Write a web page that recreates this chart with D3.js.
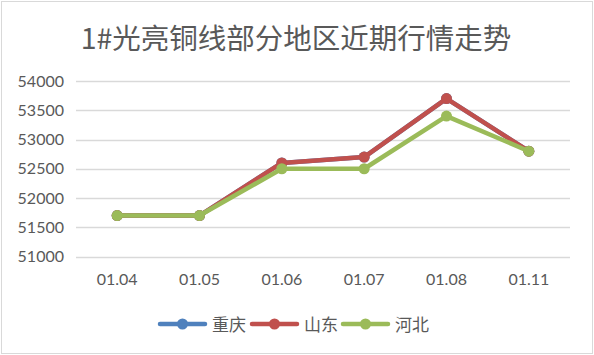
<!DOCTYPE html>
<html><head><meta charset="utf-8">
<script src="https://cdn.jsdelivr.net/npm/d3@7"></script>
<style>body{margin:0;background:#fff;}svg{display:block;}</style>
</head><body>
<script>
const categories = ["01.04","01.05","01.06","01.07","01.08","01.11"];
const seriesNames = ["重庆","山东","河北"];
const chongqing = [51700,51700,52600,52700,53700,52800];
const shandong = [51700,51700,52600,52700,53700,52800];
const hebei = [51700,51700,52500,52500,53400,52800];
const yTicks = [51000,51500,52000,52500,53000,53500,54000];
const colors = ["#4F81BD","#C0504D","#9BBB59"];
const title = "1#光亮铜线部分地区近期行情走势";

const W=594,H=355;
const svg=d3.select("body").append("svg").attr("width",W).attr("height",H);
svg.append("rect").attr("x",1.5).attr("y",1.5).attr("width",W-3).attr("height",H-3)
  .attr("fill","#fff").attr("stroke","#d9d9d9").attr("stroke-width",1);

svg.append("text").attr("x",296).attr("y",49).attr("text-anchor","middle")
  .attr("font-family","'Noto Sans CJK SC'").attr("font-size",28.5).attr("fill","#595959")
  .text(title);

const x=d3.scaleBand().domain(categories).range([76,570]);
const y=d3.scaleLinear().domain([51000,54000]).range([256.5,81]);

const grid=svg.append("g");
yTicks.forEach(t=>{
  grid.append("line").attr("x1",76).attr("x2",570).attr("y1",Math.round(y(t))+0.5).attr("y2",Math.round(y(t))+0.5)
   .attr("stroke","#d9d9d9").attr("stroke-width",1.5);
});
const yAxis=svg.append("g").attr("transform","translate(76,0)")
  .call(d3.axisLeft(y).tickValues(yTicks).tickFormat(d3.format("d")).tickSize(0).tickPadding(12));
yAxis.select(".domain").remove();
yAxis.selectAll("text").attr("font-family","Lato, 'Open Sans', sans-serif").attr("font-size",16).attr("fill","#595959");

const xAxis=svg.append("g").attr("transform","translate(0,269)")
  .call(d3.axisBottom(x).tickSize(0).tickPadding(5));
xAxis.select(".domain").remove();
xAxis.selectAll("text").attr("font-family","Lato, 'Open Sans', sans-serif").attr("font-size",16).attr("fill","#595959");

const data=[chongqing,shandong,hebei];
const line=d3.line().x((d,i)=>x(categories[i])+x.bandwidth()/2).y(d=>y(d));
data.forEach((s,k)=>{
  const g=svg.append("g");
  g.append("path").attr("d",line(s)).attr("fill","none").attr("stroke",colors[k]).attr("stroke-width",4.5).attr("stroke-linejoin","round");
  g.selectAll("circle").data(s).enter().append("circle")
   .attr("cx",(d,i)=>x(categories[i])+x.bandwidth()/2).attr("cy",d=>y(d)).attr("r",5.5).attr("fill",colors[k]);
});

// legend
const lx=[160,252,343];
seriesNames.forEach((n,k)=>{
  const g=svg.append("g").attr("transform",`translate(${lx[k]},324)`);
  g.append("line").attr("x1",0).attr("x2",45).attr("stroke",colors[k]).attr("stroke-width",4.5).attr("stroke-linecap","round");
  g.append("circle").attr("cx",22.5).attr("r",5.5).attr("fill",colors[k]);
  g.append("text").attr("x",52).attr("y",6.5).attr("font-family","'Noto Sans CJK SC'").attr("font-size",17).attr("fill","#595959").text(n);
});
</script>
</body></html>
